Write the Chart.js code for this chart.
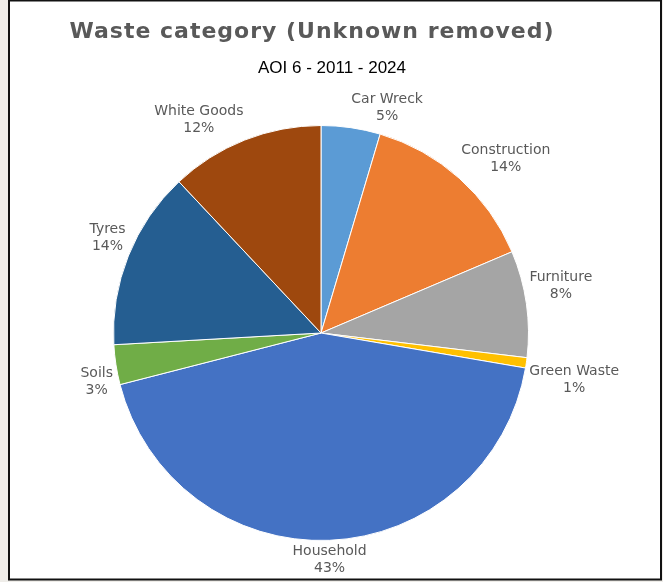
<!DOCTYPE html>
<html>
<head>
<meta charset="utf-8">
<script src="https://cdn.jsdelivr.net/npm/chart.js@4/dist/chart.umd.min.js"></script>
<style>
  html, body { margin: 0; padding: 0; background: #efede9; }
  #wrap { position: relative; width: 663px; height: 582px; }
</style>
</head>
<body>
<div id="wrap"><canvas id="c" width="663" height="582"></canvas></div>
<script>
const titleText = "Waste category (Unknown removed)";
const subtitleText = "AOI 6 - 2011 - 2024";
const categories = ["Car Wreck", "Construction", "Furniture", "Green Waste", "Household", "Soils", "Tyres", "White Goods"];
const values = [4.6, 14.0, 8.3, 0.8, 43.3, 3.1, 13.9, 12.0];
const colors = ["#5B9BD5", "#ED7D31", "#A5A5A5", "#FFC000", "#4472C4", "#70AD47", "#255E91", "#9E480E"];

const framePlugin = {
  id: 'frame',
  beforeDraw(chart) {
    const ctx = chart.ctx;
    ctx.save();
    ctx.fillStyle = '#efede9';
    ctx.fillRect(0, 0, 663, 582);
    ctx.fillStyle = '#ffffff';
    ctx.fillRect(9, 1, 652, 578);
    ctx.strokeStyle = '#111111';
    ctx.lineWidth = 2;
    ctx.strokeRect(9, 0.5, 652, 579);
    ctx.restore();
  },
  afterDraw(chart) {
    const ctx = chart.ctx;
    ctx.save();
    ctx.textAlign = 'center';
    ctx.textBaseline = 'middle';
    ctx.fillStyle = '#595959';
    ctx.font = 'bold 22px "DejaVu Sans"';
    ctx.letterSpacing = '1px';
    ctx.fillText(titleText, 312, 32);
    ctx.letterSpacing = '0px';
    ctx.fillStyle = '#000000';
    ctx.font = '17px "Liberation Sans"';
    ctx.fillText(subtitleText, 332, 68);

    // data labels
    const meta = chart.getDatasetMeta(0);
    const total = values.reduce((a, b) => a + b, 0);
    ctx.font = '14px "DejaVu Sans"';
    ctx.fillStyle = '#595959';
    const lh = 17;
    meta.data.forEach((arc, i) => {
      const mid = (arc.startAngle + arc.endAngle) / 2;
      const dx = Math.cos(mid), dy = Math.sin(mid);
      const R = arc.outerRadius + 3;
      const px = arc.x + R * dx, py = arc.y + R * dy;
      const lines = [categories[i], Math.round(values[i] / total * 100) + '%'];
      const halfW = Math.max(...lines.map(l => ctx.measureText(l).width)) / 2;
      const halfH = lh;
      const hx = Math.sign(dx) * Math.min(1, Math.max(0, (Math.abs(dx) - 0.06) * 15));
      const vy = Math.sign(dy) * Math.min(1, Math.max(0, (Math.abs(dy) - 0.06) * 15));
      const cx = px + hx * halfW;
      const cy = py + vy * halfH;
      ctx.fillText(lines[0], cx, cy - lh / 2);
      ctx.fillText(lines[1], cx, cy + lh / 2);
    });
    ctx.restore();
  }
};

new Chart(document.getElementById('c'), {
  type: 'pie',
  data: {
    labels: categories,
    datasets: [{
      data: values,
      backgroundColor: colors,
      borderColor: '#ffffff',
      borderWidth: 1
    }]
  },
  options: {
    responsive: false,
    animation: false,
    layout: { padding: { left: 113, right: 134, top: 125, bottom: 41 } },
    plugins: {
      legend: { display: false },
      tooltip: { enabled: false },
      title: { display: false }
    }
  },
  plugins: [framePlugin]
});
</script>
</body>
</html>
